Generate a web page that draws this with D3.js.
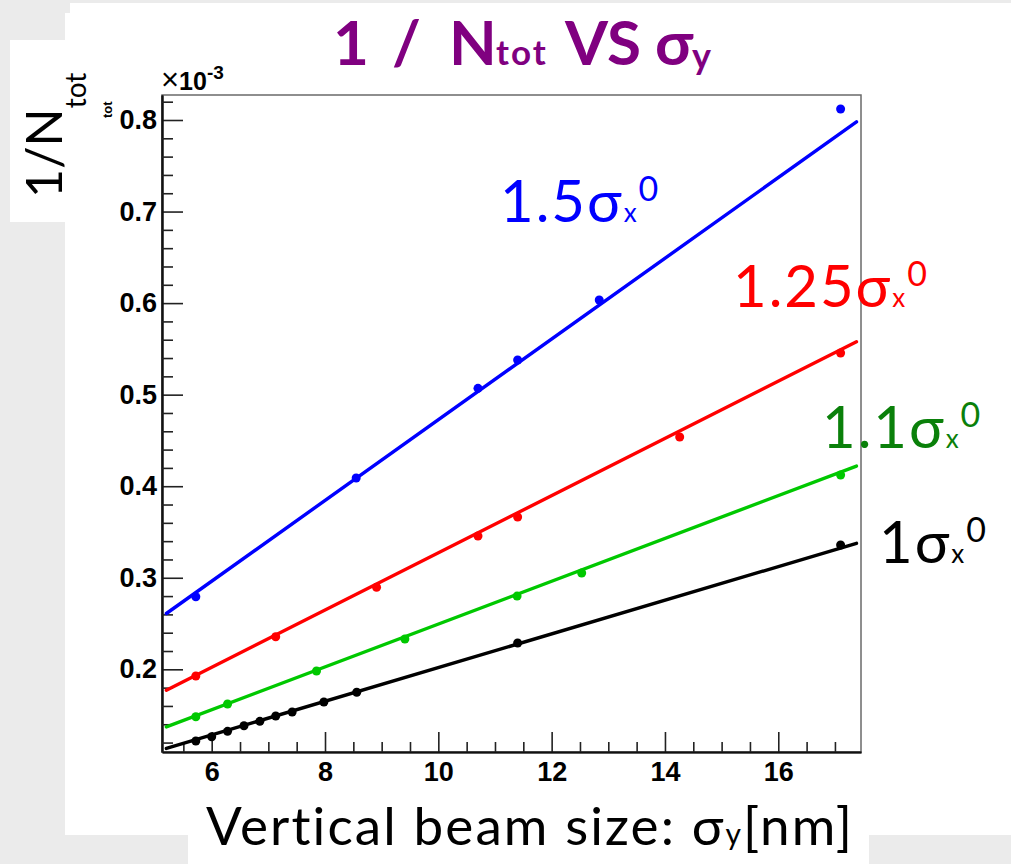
<!DOCTYPE html>
<html><head><meta charset="utf-8">
<script src="https://cdn.jsdelivr.net/npm/d3@7"></script>
<style>
body{margin:0;background:#ebebeb;}
svg{display:block}
</style>
</head><body>
<svg id="chart" width="1011" height="864"></svg>
<script>
// Vertical beam size (nm) and 1/N_tot (x10^-3), one pair per horizontal beam size
const sigmaY_1   = [5.72, 6.00, 6.28, 6.57, 6.85, 7.13, 7.42, 7.98, 8.56, 11.40, 17.10];
const invN_1     = [0.1217, 0.1264, 0.1323, 0.1384, 0.1432, 0.1490, 0.1534, 0.1643, 0.1749, 0.2287, 0.3358];
const sigmaY_11  = [5.72, 6.28, 7.85, 9.41, 11.39, 12.53, 17.10];
const invN_11    = [0.1482, 0.1621, 0.1982, 0.2331, 0.2800, 0.3052, 0.4122];
const sigmaY_125 = [5.72, 7.13, 8.91, 10.70, 11.40, 14.26, 17.10];
const invN_125   = [0.1927, 0.2356, 0.2896, 0.3456, 0.3664, 0.4537, 0.5455];
const sigmaY_15  = [5.72, 8.55, 10.70, 11.40, 12.84, 17.10];
const invN_15    = [0.2793, 0.4090, 0.5069, 0.5379, 0.6034, 0.8120];

// Linear fit results for each series (same order as seriesFactor)
const seriesFactor = ["1", "1.1", "1.25", "1.5"];
const fitSlope     = [0.01839, 0.02339, 0.03125, 0.04409];
const fitIntercept = [0.0180, 0.0155, 0.0147, 0.0317];
const fitRange     = [5.2, 17.38];

const xTicks = [6, 8, 10, 12, 14, 16];
const xTickLabels = ["6", "8", "10", "12", "14", "16"];
const yTicks = [0.2, 0.3, 0.4, 0.5, 0.6, 0.7, 0.8];
const yTickLabels = ["0.2", "0.3", "0.4", "0.5", "0.6", "0.7", "0.8"];

const svg = d3.select("#chart");

// slide background and white panels
svg.append("rect").attr("width", 1011).attr("height", 864).attr("fill", "#ebebeb");
svg.append("rect").attr("x", 70).attr("y", 3).attr("width", 941).attr("height", 832).attr("fill", "#fff");
svg.append("rect").attr("x", 65).attr("y", 13).attr("width", 10).attr("height", 822).attr("fill", "#fff");
svg.append("rect").attr("x", 188).attr("y", 800).attr("width", 681).attr("height", 64).attr("fill", "#fff");
svg.append("rect").attr("x", 10).attr("y", 40).attr("width", 60).attr("height", 182).attr("fill", "#fff");

const frame = {left: 162, right: 861, top: 95, bottom: 752};
const x = d3.scaleLinear().domain([5.123, 17.46]).range([frame.left, frame.right]);
const y = d3.scaleLinear().domain([0.1097, 0.8273]).range([frame.bottom, frame.top]);

// frame
svg.append("rect")
  .attr("x", frame.left).attr("y", frame.top)
  .attr("width", frame.right - frame.left).attr("height", frame.bottom - frame.top)
  .attr("fill", "none").attr("stroke", "#6a6a6a").attr("stroke-width", 1.5);

// axes (ticks pointing into the frame)
const yMinor = d3.range(0.12, 0.825, 0.02).filter(v => !yTicks.some(t => Math.abs(t - v) < 1e-6));
const xMinor = d3.range(5.5, 17.3, 0.5).filter(v => !xTicks.some(t => Math.abs(t - v) < 1e-6));

const yAxisG = svg.append("g").attr("transform", `translate(${frame.left},0)`);
yAxisG.call(d3.axisLeft(y).tickValues(yTicks).tickSizeInner(-21).tickSizeOuter(0)
  .tickPadding(27).tickFormat((d, i) => yTickLabels[i]));
yAxisG.append("g").call(d3.axisLeft(y).tickValues(yMinor).tickSizeInner(-11).tickSizeOuter(0).tickFormat(""));

const xAxisG = svg.append("g").attr("transform", `translate(0,${frame.bottom})`);
xAxisG.call(d3.axisBottom(x).tickValues(xTicks).tickSizeInner(-20).tickSizeOuter(0)
  .tickPadding(30).tickFormat((d, i) => xTickLabels[i]));
xAxisG.append("g").call(d3.axisBottom(x).tickValues(xMinor).tickSizeInner(-10).tickSizeOuter(0).tickFormat(""));

svg.selectAll(".domain").attr("stroke", "#111").attr("stroke-width", 2);
xAxisG.select(".domain").attr("stroke", "#555");
svg.selectAll(".tick line").attr("stroke", "#222").attr("stroke-width", 1.6);
svg.selectAll(".tick text")
  .attr("font-family", "'Liberation Sans', Arial, sans-serif")
  .attr("font-weight", "bold").attr("font-size", 27).attr("fill", "#000");
yAxisG.selectAll(".tick text").attr("x", -5);
xAxisG.selectAll(".tick text").attr("y", 10).attr("dy", "0.71em");

// exponent marker
svg.append("text").attr("x", 161).attr("y", 90)
  .attr("font-family", "'Liberation Sans', Arial, sans-serif").attr("font-size", 25)
  .call(t => {
    t.append("tspan").attr("font-size", 31).text("\u00d7");
    t.append("tspan").attr("font-weight", "bold").text("10");
    t.append("tspan").attr("font-size", 19).attr("font-weight", "bold").attr("dy", -11).text("-3");
  });
svg.append("text").attr("transform", "translate(112,118) rotate(-90)")
  .attr("font-family", "'Liberation Sans', Arial, sans-serif").attr("font-size", 13)
  .attr("font-weight", "bold").text("tot");

// fits and points
const series = [
  {xs: sigmaY_1,   ys: invN_1,   color: "#000000"},
  {xs: sigmaY_11,  ys: invN_11,  color: "#00c800"},
  {xs: sigmaY_125, ys: invN_125, color: "#ff0000"},
  {xs: sigmaY_15,  ys: invN_15,  color: "#0000ff"}
];
const line = d3.line().x(d => x(d[0])).y(d => y(d[1]));
series.forEach((s, i) => {
  const pts = fitRange.map(v => [v, fitIntercept[i] + fitSlope[i] * v]);
  svg.append("path").attr("d", line(pts)).attr("fill", "none")
    .attr("stroke", s.color).attr("stroke-width", 3.4).attr("stroke-linecap", "round");
  svg.append("g").selectAll("circle")
    .data(s.xs.map((v, j) => [v, s.ys[j]]))
    .join("circle")
    .attr("cx", d => x(d[0])).attr("cy", d => y(d[1])).attr("r", 4.5)
    .attr("fill", s.color);
});

// series labels
const labelFont = "Lato, 'Noto Sans', sans-serif";
const labels = [
  {i: 3, x: 500, y: 222, color: "#0000ff"},
  {i: 2, x: 733, y: 307, color: "#ff0000"},
  {i: 1, x: 822, y: 448, color: "#0a800a"},
  {i: 0, x: 879, y: 563, color: "#000000"}
];
labels.forEach(l => {
  const t = svg.append("text").attr("x", l.x).attr("y", l.y)
    .attr("font-family", labelFont).attr("font-size", 58).attr("fill", l.color)
    .attr("letter-spacing", 2);
  t.append("tspan").text(seriesFactor[l.i] + "\u03c3");
  t.append("tspan").attr("font-size", 26).text("x");
  t.append("tspan").attr("font-size", 34).attr("dy", -21).text("0");
});

// title
const title = svg.append("text").attr("y", 65)
  .attr("font-family", "Lato, sans-serif").attr("font-weight", "bold")
  .attr("font-size", 62).attr("fill", "#800080");
title.append("tspan").attr("x", 333).text("1");
title.append("tspan").attr("x", 392).text("/");
title.append("tspan").attr("x", 449).text("N");
title.append("tspan").attr("x", 496).attr("font-size", 35).attr("letter-spacing", 2).text("tot");
title.append("tspan").attr("x", 565).text("VS");
title.append("tspan").attr("x", 655).text("\u03c3");
title.append("tspan").attr("x", 692).attr("dy", 4).attr("font-size", 36).text("y");

// y-axis title
const yTitle = svg.append("text").attr("transform", "translate(62,198) rotate(-90)")
  .attr("font-family", labelFont).attr("font-size", 50).attr("fill", "#000");
yTitle.append("tspan").text("1/N");
yTitle.append("tspan").attr("font-size", 28).attr("dy", 24).text("tot");

// x-axis title
const xTitle = svg.append("text").attr("x", 206).attr("y", 845)
  .attr("font-family", labelFont).attr("font-size", 53).attr("fill", "#000")
  .attr("letter-spacing", 2.1);
xTitle.append("tspan").text("Vertical beam size: \u03c3");
xTitle.append("tspan").attr("font-size", 30).text("y");
xTitle.append("tspan").text("[nm]");
</script>
</body></html>
